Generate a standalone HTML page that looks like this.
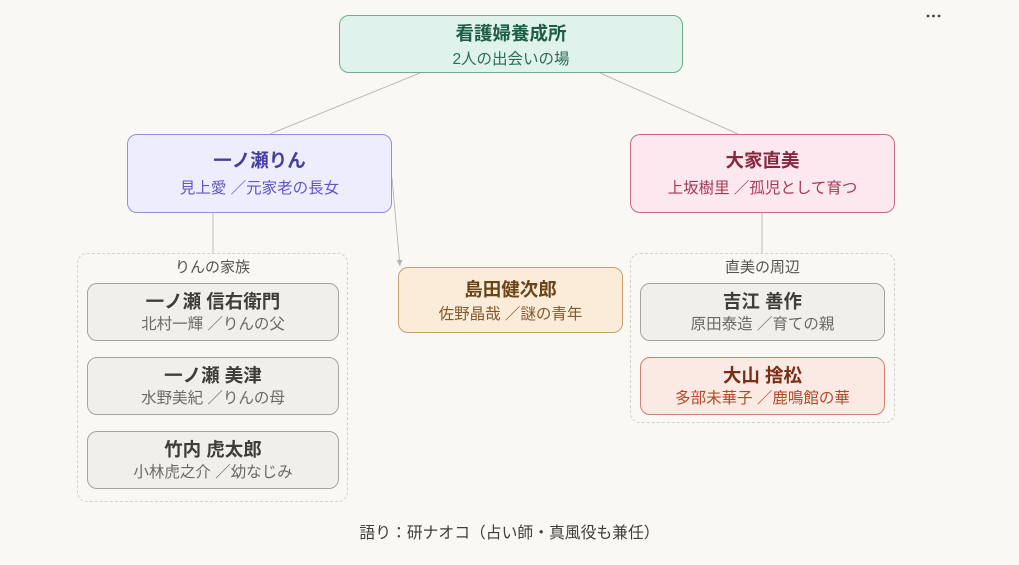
<!DOCTYPE html>
<html><head><meta charset="utf-8"><style>
body{margin:0;width:1019px;height:565px;background:#f9f8f5;font-family:"Liberation Sans","Noto Sans CJK JP",sans-serif;position:relative;overflow:hidden}
.n{position:absolute;box-sizing:border-box;border:1px solid;border-radius:10px;text-align:center}
.t{position:absolute;left:0;right:0;font-weight:bold;font-size:18.5px;line-height:22px}
.s{position:absolute;left:0;right:0;font-size:15.5px;line-height:19px}
.g{position:absolute;box-sizing:border-box;border:1.2px dashed #d3d1cc;border-radius:10px}
.gl{position:absolute;left:0;right:0;text-align:center;font-size:15px;color:#55544f;top:2px}
.gr{background:#f1efea;border-color:#a5a49e;color:#3d3d3a}
.gr .s{color:#6b6a66}
</style></head><body>
<svg width="1019" height="565" style="position:absolute;left:0;top:0">
<defs><marker id="a" markerWidth="8" markerHeight="8" refX="6" refY="3" orient="auto"><path d="M0,0 L6,3 L0,6z" fill="#b5b3ad"/></marker></defs>
<g stroke="#bdbbb5" stroke-width="1" fill="none">
<line x1="420" y1="73" x2="270" y2="134"/>
<line x1="600" y1="73" x2="738" y2="134"/>
<line x1="213" y1="213" x2="213" y2="253"/>
<line x1="762" y1="213" x2="762" y2="253"/>
<line x1="392" y1="178" x2="400" y2="266" marker-end="url(#a)"/>
</g>
<g fill="#444"><circle cx="928" cy="16" r="1.4"/><circle cx="933.5" cy="16" r="1.4"/><circle cx="939" cy="16" r="1.4"/></g>
</svg>
<div class="n" style="left:339px;top:15px;width:344px;height:58px;background:#e0f2ec;border-color:#6bae93;color:#1f5e45"><div class="t" style="top:7px">看護婦養成所</div><div class="s" style="top:34px;color:#2a6e52">2人の出会いの場</div></div>
<div class="n" style="left:127px;top:134px;width:265px;height:79px;background:#eeedfd;border-color:#948fdc;color:#443ea0"><div class="t" style="top:15px">一ノ瀬りん</div><div class="s" style="top:44px;color:#5e58c2">見上愛 ／元家老の長女</div></div>
<div class="n" style="left:630px;top:134px;width:265px;height:79px;background:#fce8ee;border-color:#c46a82;color:#87283f"><div class="t" style="top:15px">大家直美</div><div class="s" style="top:44px;color:#a23a55">上坂樹里 ／孤児として育つ</div></div>
<div class="g" style="left:77px;top:253px;width:271px;height:249px"><div class="gl">りんの家族</div></div>
<div class="g" style="left:630px;top:253px;width:265px;height:170px"><div class="gl">直美の周辺</div></div>
<div class="n gr" style="left:87px;top:283px;width:252px;height:58px"><div class="t" style="top:7px">一ノ瀬 信右衛門</div><div class="s" style="top:31px">北村一輝 ／りんの父</div></div>
<div class="n gr" style="left:87px;top:357px;width:252px;height:58px"><div class="t" style="top:7px">一ノ瀬 美津</div><div class="s" style="top:31px">水野美紀 ／りんの母</div></div>
<div class="n gr" style="left:87px;top:431px;width:252px;height:58px"><div class="t" style="top:7px">竹内 虎太郎</div><div class="s" style="top:31px">小林虎之介 ／幼なじみ</div></div>
<div class="n gr" style="left:640px;top:283px;width:245px;height:58px"><div class="t" style="top:7px">吉江 善作</div><div class="s" style="top:31px">原田泰造 ／育ての親</div></div>
<div class="n" style="left:640px;top:357px;width:245px;height:58px;background:#fbeae4;border-color:#c98370;color:#7a2e17"><div class="t" style="top:7px">大山 捨松</div><div class="s" style="top:31px;color:#b04a2a">多部未華子 ／鹿鳴館の華</div></div>
<div class="n" style="left:398px;top:267px;width:225px;height:66px;background:#faecd9;border-color:#c9a06a;color:#6b4518"><div class="t" style="top:11px">島田健次郎</div><div class="s" style="top:37px;color:#85592a">佐野晶哉 ／謎の青年</div></div>
<div style="position:absolute;left:0;right:0;top:520px;text-align:center;font-size:15.8px;color:#3d3d3a">語り：研ナオコ（占い師・真風役も兼任）</div>
</body></html>
